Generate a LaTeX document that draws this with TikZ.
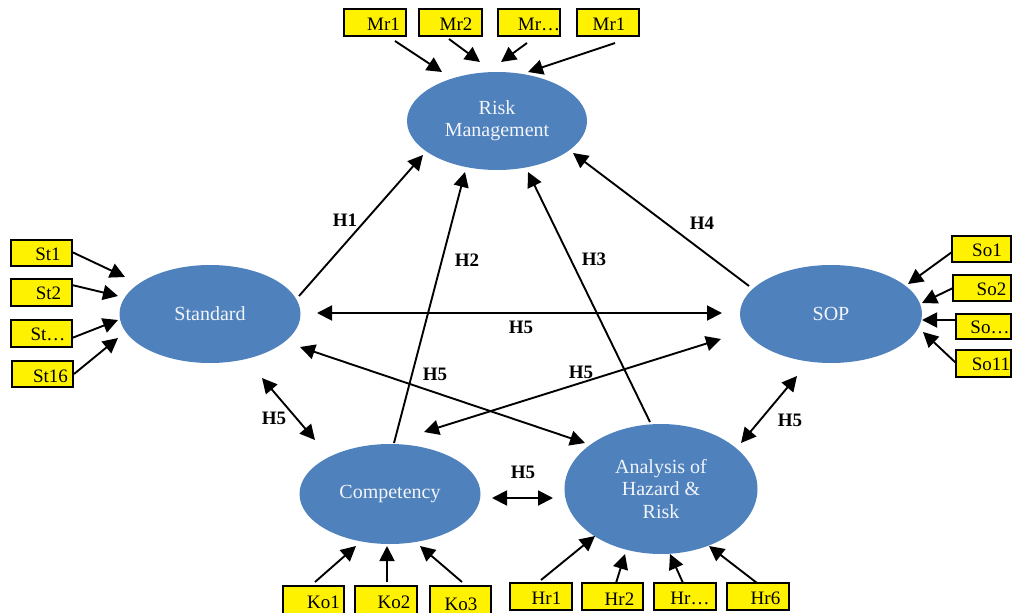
\documentclass[tikz,border=0pt]{standalone}
\usepackage{fontspec}
\setmainfont{Liberation Serif}
\usetikzlibrary{shapes.geometric,arrows.meta}
\definecolor{lvblue}{HTML}{4F81BD}
\definecolor{lvtext}{HTML}{F2F5FA}
\begin{document}
\begin{tikzpicture}[x=1pt,y=-1pt,
  latent/.style={ellipse,fill=lvblue,text=lvtext,inner sep=0pt,align=center,font=\fontsize{20}{22}\selectfont},
  ind/.style={rectangle,fill=yellow,draw=black,line width=1.5pt,inner sep=0pt,minimum height=27pt,minimum width=61pt},
  itxt/.style={font=\fontsize{19}{20}\selectfont,inner sep=0pt},
  arr/.style={line width=1.9pt,-{Triangle[length=15pt,width=15pt]}},
  darr/.style={line width=1.9pt,{Triangle[length=15pt,width=15pt]}-{Triangle[length=15pt,width=15pt]}},
  hl/.style={font=\bfseries\fontsize{19}{20}\selectfont,inner sep=0pt}]
\useasboundingbox (0,0) rectangle (1012,613);

% latent variables
\node[latent,minimum width=180pt,minimum height=98pt] (rm) at (497,121) {Risk\\Management};
\node[latent,minimum width=181pt,minimum height=98pt] (st) at (210,314) {Standard};
\node[latent,minimum width=182pt,minimum height=98pt] (sop) at (831,314) {SOP};
\node[latent,minimum width=181pt,minimum height=100pt] (co) at (390,494) {Competency};
\node[latent,minimum width=193pt,minimum height=130pt,font=\fontsize{20}{22.5}\selectfont] (an) at (661,489) {Analysis of\\Hazard \&\\Risk};

% indicators
\node[ind,minimum width=62pt,label={[itxt,xshift=8.5pt,yshift=-2pt]center:Mr1}] (mr1) at (375,22.5) {};
\node[ind,minimum width=63pt,label={[itxt,xshift=5.5pt,yshift=-2pt]center:Mr2}] (mr2) at (450.5,22.5) {};
\node[ind,minimum width=62pt,label={[itxt,xshift=10pt,yshift=-2pt]center:Mr\dots}] (mr3) at (529,22.5) {};
\node[ind,minimum width=62pt,label={[itxt,xshift=1pt,yshift=-2pt]center:Mr1}] (mr4) at (608,22.5) {};

\node[ind,minimum height=26pt,label={[itxt,xshift=6.5pt,yshift=-1pt]center:St1}] (st1) at (41.5,253) {};
\node[ind,label={[itxt,xshift=7pt,yshift=-1pt]center:St2}] (st2) at (41.5,292.5) {};
\node[ind,label={[itxt,xshift=6.5pt,yshift=-1pt]center:St\dots}] (st3) at (41.5,333.5) {};
\node[ind,minimum height=26pt,label={[itxt,xshift=8pt,yshift=-2pt]center:St16}] (st16) at (42.5,374) {};

\node[ind,minimum width=59pt,minimum height=26pt,label={[itxt,xshift=5.5pt,yshift=-1pt]center:So1}] (so1) at (981.5,249) {};
\node[ind,minimum width=58pt,minimum height=26pt,label={[itxt,xshift=9.5pt,yshift=-1pt]center:So2}] (so2) at (982,288) {};
\node[ind,minimum width=55pt,minimum height=25pt,label={[itxt,xshift=6.5pt,yshift=-1pt]center:So\dots}] (so3) at (983.5,326.5) {};
\node[ind,minimum width=55pt,label={[itxt,xshift=7.5pt,yshift=-1pt]center:So11}] (so11) at (983.5,363.5) {};

\node[ind,minimum height=28pt,label={[itxt,xshift=10pt,yshift=-2pt]center:Ko1}] (ko1) at (313.5,600) {};
\node[ind,minimum width=62pt,minimum height=28pt,label={[itxt,xshift=8pt,yshift=-2pt]center:Ko2}] (ko2) at (386,600) {};
\node[ind,minimum height=28pt,label={[itxt,xshift=0.5pt,yshift=-4pt]center:Ko3}] (ko3) at (460.5,600) {};

\node[ind,minimum width=62pt,label={[itxt,xshift=5.5pt,yshift=-2pt]center:Hr1}] (hr1) at (541,596.5) {};
\node[ind,minimum width=61pt,label={[itxt,xshift=7pt,yshift=-3pt]center:Hr2}] (hr2) at (612.5,596.5) {};
\node[ind,minimum width=62pt,label={[itxt,xshift=5pt,yshift=-2pt]center:Hr\dots}] (hr3) at (685,596.5) {};
\node[ind,minimum width=62pt,label={[itxt,xshift=7.5pt,yshift=-2pt]center:Hr6}] (hr6) at (758,596.5) {};

% indicator arrows
\draw[arr] ([shift={(20,18.5)}]mr1.center) -- ([shift={(-55,-49)}]rm.center);
\draw[arr] ([shift={(-1.5,16.5)}]mr2.center) -- ([shift={(-17,-59)}]rm.center);
\draw[arr] ([shift={(-2,20.5)}]mr3.center) -- ([shift={(4,-59)}]rm.center);
\draw[arr] ([shift={(7,20.5)}]mr4.center) -- ([shift={(31,-49)}]rm.center);

\draw[arr] ([shift={(30.5,-1)}]st1.center) -- ([shift={(-85,-37)}]st.center);
\draw[arr] ([shift={(30.5,-7.5)}]st2.center) -- ([shift={(-92,-18)}]st.center);
\draw[arr] ([shift={(30.5,4.5)}]st3.center) -- ([shift={(-92,6)}]st.center);
\draw[arr] ([shift={(31.5,0)}]st16.center) -- ([shift={(-92,24)}]st.center);

\draw[arr] ([shift={(-29.5,3)}]so1.center) -- ([shift={(77,-30)}]sop.center);
\draw[arr] ([shift={(-29,0)}]so2.center) -- ([shift={(91,-11)}]sop.center);
\draw[arr] ([shift={(-27.5,-6.5)}]so3.center) -- ([shift={(91,6)}]sop.center);
\draw[arr] ([shift={(-27.5,-0.5)}]so11.center) -- ([shift={(92,18)}]sop.center);

\draw[arr] ([shift={(1.5,-18)}]ko1.center) -- ([shift={(-34,52)}]co.center);
\draw[arr] ([shift={(1,-18)}]ko2.center) -- ([shift={(-3,52)}]co.center);
\draw[arr] ([shift={(1.5,-18)}]ko3.center) -- ([shift={(30,52)}]co.center);

\draw[arr] ([shift={(0,-16.5)}]hr1.center) -- ([shift={(-66,47)}]an.center);
\draw[arr] ([shift={(3.5,-13.5)}]hr2.center) -- ([shift={(-36,65)}]an.center);
\draw[arr] ([shift={(-2,-13.5)}]hr3.center) -- ([shift={(9,65)}]an.center);
\draw[arr] ([shift={(-1,-13.5)}]hr6.center) -- ([shift={(48,57)}]an.center);

% structural paths
\draw[arr] ([shift={(89,-18)}]st.center) -- ([shift={(-74,34)}]rm.center);
\draw[arr] ([shift={(4,-51)}]co.center) -- ([shift={(-32,51)}]rm.center);
\draw[arr] ([shift={(-11,-67)}]an.center) -- ([shift={(31,51)}]rm.center);
\draw[arr] ([shift={(-82,-28)}]sop.center) -- ([shift={(76,32)}]rm.center);

\draw[darr] ([shift={(107,-1)}]st.center) -- ([shift={(-109,-1)}]sop.center);
\draw[darr] ([shift={(90,33)}]st.center) -- ([shift={(-76,-46)}]an.center);
\draw[darr] ([shift={(34,-62)}]co.center) -- ([shift={(-110,25)}]sop.center);
\draw[darr] ([shift={(52,64)}]st.center) -- ([shift={(-75,-54)}]co.center);
\draw[darr] ([shift={(-34,62)}]sop.center) -- ([shift={(80,-46)}]an.center);
\draw[darr] ([shift={(102,4)}]co.center) -- ([shift={(-108,9)}]an.center);

% labels
\node[hl] (lh1) at (345,220) {H1};
\node[hl] (lh2) at (467,260) {H2};
\node[hl] (lh3) at (594,259) {H3};
\node[hl] (lh4) at (702,223) {H4};
\node[hl] (lh5a) at (521,327) {H5};
\node[hl] (lh5b) at (435,374) {H5};
\node[hl] (lh5c) at (581,372) {H5};
\node[hl] (lh5d) at (274,418) {H5};
\node[hl] (lh5e) at (790,420) {H5};
\node[hl] (lh5f) at (523,472) {H5};
\end{tikzpicture}
\end{document}
